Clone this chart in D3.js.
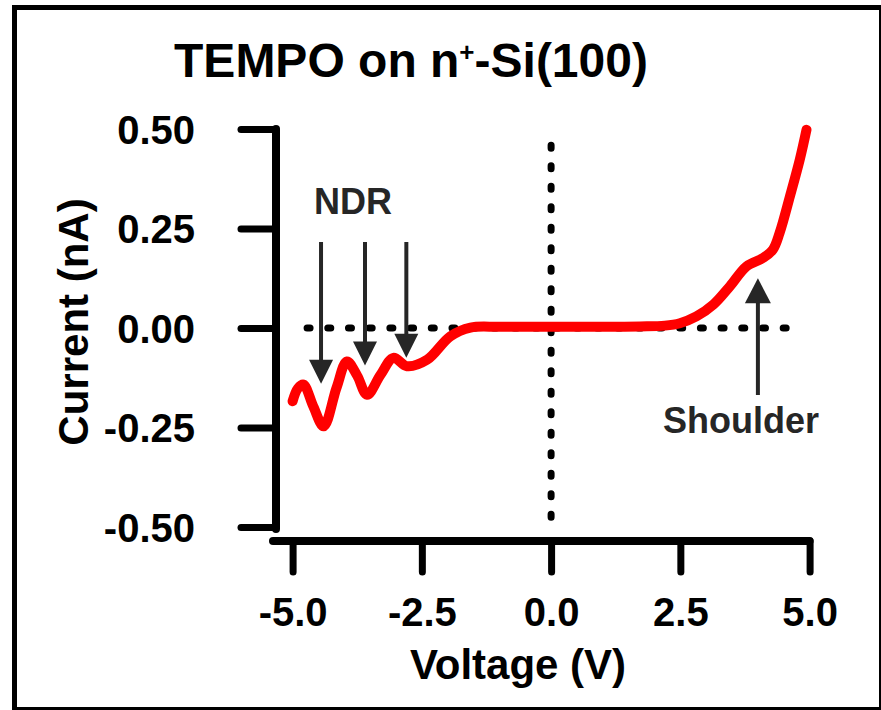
<!DOCTYPE html>
<html>
<head>
<meta charset="utf-8">
<script src="https://cdn.jsdelivr.net/npm/d3@7"></script>
<style>
  html, body { margin: 0; padding: 0; background: #fff; }
  svg text { font-family: "Liberation Sans", Arial, Helvetica, sans-serif; font-weight: bold; }
</style>
</head>
<body>
<svg id="chart" width="881" height="710"></svg>
<script>
// I–V sweep of TEMPO on n+-Si(100)
const voltage = [-5.0, -4.9, -4.79, -4.6, -4.4, -4.15, -3.95, -3.75, -3.56, -3.3, -3.05, -2.79, -2.4, -1.95, -1.56, -1.0, 0.0, 1.0, 1.72, 2.2, 2.49, 2.81, 3.14, 3.46, 3.78, 4.10, 4.29, 4.42, 4.62, 4.81, 4.94];
const current = [-0.184, -0.152, -0.142, -0.197, -0.247, -0.150, -0.084, -0.120, -0.168, -0.118, -0.075, -0.096, -0.080, -0.021, 0.001, 0.003, 0.003, 0.003, 0.004, 0.006, 0.012, 0.029, 0.059, 0.105, 0.155, 0.176, 0.197, 0.239, 0.331, 0.423, 0.498];

const xTicks = [-5.0, -2.5, 0.0, 2.5, 5.0];
const yTicks = [0.50, 0.25, 0.00, -0.25, -0.50];

// dotted reference lines
const zeroLineV = [-4.72, 4.55];   // horizontal dotted line at I = 0 (voltage span)
const zeroLineI = [0.459, -0.478]; // vertical dotted line at V = 0 (current span)

// annotations
const ndrVoltages = [-4.45, -3.6, -2.8];
const ndrTips = [-0.14, -0.094, -0.075];
const shoulderV = 4.0;
const shoulderTip = 0.125;

const svg = d3.select("#chart");

// outer frame
svg.append("rect")
  .attr("x", 14.5).attr("y", 7.5).attr("width", 867).attr("height", 702)
  .attr("fill", "none").attr("stroke", "#000").attr("stroke-width", 5);

const x = d3.scaleLinear().domain([-5, 5]).range([292.6, 809.6]);
const y = d3.scaleLinear().domain([-0.5, 0.5]).range([527, 129]);

const axisX0 = 276;   // y-axis position
const axisY0 = 541;   // x-axis position

// plain hyphen for negative numbers
const fmt = p => d => d3.format(p)(d).replace("\u2212", "-");

// y axis
const yAxis = svg.append("g")
  .attr("transform", `translate(${axisX0},0)`)
  .call(d3.axisLeft(y).tickValues(yTicks).tickSize(35).tickSizeOuter(0).tickPadding(46)
    .tickFormat(fmt(".2f")));
yAxis.select(".domain").remove();
yAxis.selectAll(".tick line").attr("stroke", "#000").attr("stroke-width", 7).attr("stroke-linecap", "round");
yAxis.selectAll(".tick text").attr("font-size", 40).attr("fill", "#000").attr("dy", "0.36em");
yAxis.append("line")
  .attr("x1", 0).attr("x2", 0).attr("y1", y(0.5)).attr("y2", y(-0.5) + 2)
  .attr("stroke", "#000").attr("stroke-width", 8).attr("stroke-linecap", "round");

// x axis
const xAxis = svg.append("g")
  .attr("transform", `translate(0,${axisY0})`)
  .call(d3.axisBottom(x).tickValues(xTicks).tickSize(31).tickSizeOuter(0).tickPadding(26)
    .tickFormat(fmt(".1f")));
xAxis.select(".domain").remove();
xAxis.selectAll(".tick line").attr("stroke", "#000").attr("stroke-width", 7).attr("stroke-linecap", "round");
xAxis.selectAll(".tick text").attr("font-size", 40).attr("fill", "#000");
xAxis.append("line")
  .attr("x1", 273).attr("x2", x(5)).attr("y1", 0).attr("y2", 0)
  .attr("stroke", "#000").attr("stroke-width", 8).attr("stroke-linecap", "round");

// dotted zero lines
const dotted = (sel, gap) => sel.attr("stroke", "#000").attr("stroke-width", 7)
  .attr("stroke-linecap", "round").attr("stroke-dasharray", `3 ${gap}`).attr("fill", "none");
svg.append("line")
  .attr("x1", x(zeroLineV[0])).attr("x2", x(zeroLineV[1]))
  .attr("y1", y(0)).attr("y2", y(0)).call(dotted, 17.7);
svg.append("line")
  .attr("x1", x(0)).attr("x2", x(0))
  .attr("y1", y(zeroLineI[0])).attr("y2", y(zeroLineI[1])).call(dotted, 17.5);

// I–V curve
const pts = voltage.map((v, i) => [v, current[i]]);
svg.append("path")
  .datum(pts)
  .attr("d", d3.line().x(d => x(d[0])).y(d => y(d[1])).curve(d3.curveCatmullRom.alpha(0.5)))
  .attr("fill", "none").attr("stroke", "#ff0000").attr("stroke-width", 10)
  .attr("stroke-linecap", "round").attr("stroke-linejoin", "round");

// arrows
const arrowColor = "#262626";
function arrowDown(xp, yTop, yTip) {
  svg.append("line").attr("x1", xp).attr("x2", xp).attr("y1", yTop).attr("y2", yTip - 20)
    .attr("stroke", arrowColor).attr("stroke-width", 4);
  svg.append("path")
    .attr("d", `M${xp - 12},${yTip - 24} L${xp + 12},${yTip - 24} L${xp},${yTip} Z`)
    .attr("fill", arrowColor);
}
function arrowUp(xp, yBottom, yTip) {
  svg.append("line").attr("x1", xp).attr("x2", xp).attr("y1", yBottom).attr("y2", yTip + 20)
    .attr("stroke", arrowColor).attr("stroke-width", 4);
  svg.append("path")
    .attr("d", `M${xp - 13},${yTip + 25} L${xp + 13},${yTip + 25} L${xp},${yTip} Z`)
    .attr("fill", arrowColor);
}
ndrVoltages.forEach((v, i) => arrowDown(x(v), 242, y(ndrTips[i])));
arrowUp(x(shoulderV), 395, y(shoulderTip));

svg.append("text").attr("x", 353).attr("y", 214).attr("text-anchor", "middle")
  .attr("font-size", 36).attr("fill", arrowColor).text("NDR");
svg.append("text").attr("x", 741).attr("y", 433).attr("text-anchor", "middle")
  .attr("font-size", 36).attr("fill", arrowColor).text("Shoulder");

// title
const title = svg.append("text").attr("x", 411).attr("y", 77).attr("text-anchor", "middle")
  .attr("font-size", 48).attr("fill", "#000");
title.append("tspan").text("TEMPO on n");
title.append("tspan").attr("font-size", 26).attr("dy", -16).text("+");
title.append("tspan").attr("dy", 16).text("-Si(100)");

// axis titles
svg.append("text").attr("x", 518).attr("y", 679).attr("text-anchor", "middle")
  .attr("font-size", 42).attr("fill", "#000").text("Voltage (V)");
svg.append("text").attr("transform", "translate(88,322) rotate(-90)").attr("text-anchor", "middle")
  .attr("font-size", 42).attr("fill", "#000").text("Current (nA)");
</script>
</body>
</html>
